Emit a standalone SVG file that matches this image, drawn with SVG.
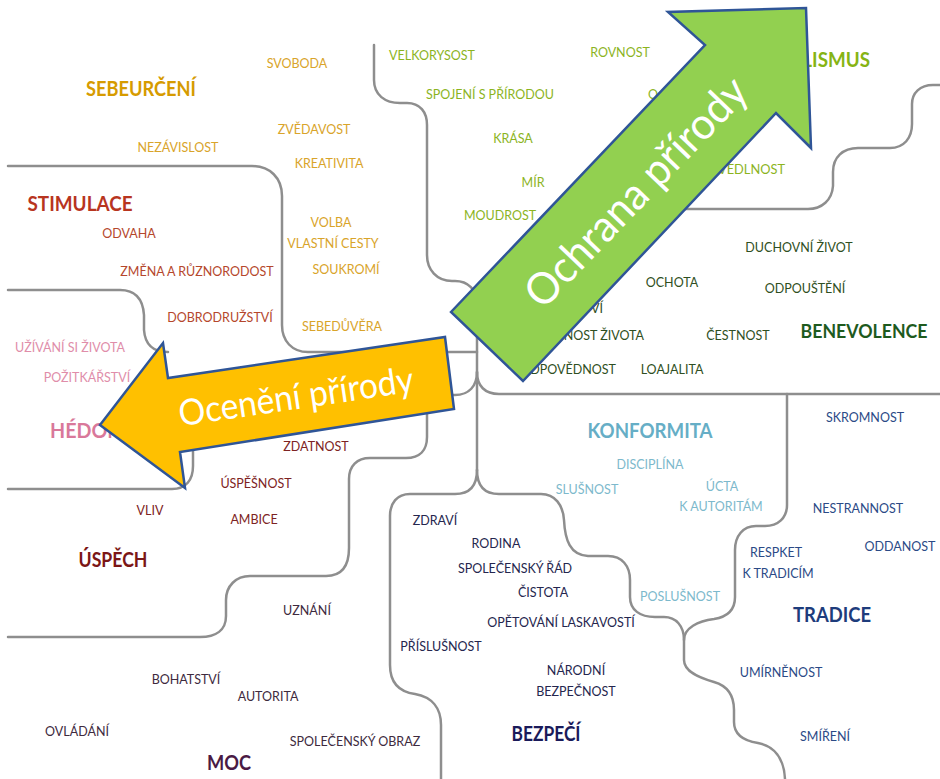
<svg xmlns="http://www.w3.org/2000/svg" width="940" height="779" viewBox="0 0 940 779">
<style>
.ln{fill:none;stroke:#8E8E8E;stroke-width:2.5;stroke-linecap:round;stroke-linejoin:round}
text{font-family:"Lato","Open Sans",sans-serif;font-size:12.5px;text-anchor:middle}
.t{font-size:20px;font-weight:bold}
.t19{font-size:19px}
.s{text-anchor:start}
.e{text-anchor:end}
.se{fill:#D9A42A}.seT{fill:#D69B00}
.st{fill:#B5472C}.stT{fill:#B8351F}
.he{fill:#E08DA9}.heT{fill:#D9789A}
.us{fill:#7D2323}.usT{fill:#7B1616}
.mo{fill:#3E2A3E}.moT{fill:#4A1A44}
.bz{fill:#25264E}.bzT{fill:#1A1A5A}
.ko{fill:#7DB9CC}.koT{fill:#66AEC6}
.tr{fill:#2B4A86}.trT{fill:#1E3C7C}
.be{fill:#2F4F22}.beT{fill:#1E5A1E}
.un{fill:#8CB41E}.unT{fill:#86B414}
.arrow{stroke:#2F5597;stroke-width:2.5;stroke-linejoin:miter}
.atext{fill:#FFFFFF;font-family:"Lato","Open Sans",sans-serif;font-weight:normal}
.ay{font-size:36px}
.ag{font-size:44px}
</style>
<rect width="940" height="779" fill="#FFFFFF"/>
<g id="connectors">
<path class="ln" d="M374,45 V80 C374,95 385,103 400,103 H407 C420,103 427,112 427,125 V255 C427,270 437,281 452,281 H455 C468,281 477,290 477,303 V470"/>
<path class="ln" d="M8,166 H252 C270,166 282,178 282,196 V325 C282,341 292,352 308,352 H477"/>
<path class="ln" d="M8,290 H120 C136,290 143,300 144,315 V330 C145,344 152,352 168,352"/>
<path class="ln" d="M8,489 H172 C186,489 193,480 193,466 V420 C193,405 201,395 216,395 H455 C469,395 477,386 477,372"/>
<path class="ln" d="M447,395 C436,395 427,402 427,413 V437 C427,450 420,458 406,458 H370 C357,458 349,466 349,479 V548 C349,566 342,576 326,576 H250 C236,576 226,586 226,600 V616 C226,630 216,637 200,637 H8"/>
<path class="ln" d="M477,470 C477,485 470,494 455,494 H410 C397,494 390,503 390,516 V665 C390,683 400,692 415,694 C432,697 441,708 441,725 V779"/>
<path class="ln" d="M477,470 C477,485 484,494 499,494 H541 C555,494 563,505 564,520 C565,540 570,555 588,556 H608 C622,556 630,566 630,580 V597 C630,610 640,617 655,617 H664 C676,617 684,626 684,640 V660 C684,672 700,678 714,682 C728,686 734,695 734,710 V722 C734,735 745,741 758,743 C774,746 784,758 785,779"/>
<path class="ln" d="M787,394 V505 C787,518 778,526 765,526 H756 C743,526 735,536 735,550 V597 C735,610 727,617 714,619 C698,621 684,628 684,640"/>
<path class="ln" d="M477,372 C477,386 485,394 499,394 H940"/>
<path class="ln" d="M600,209 H808 C822,209 832,200 833,186 V172 C833,157 843,148 858,148 H890 C904,148 912,138 912,124 V104 C912,93 920,85 933,85 H940"/>
</g>
<g id="sebeurceni">
<text class="t seT" x="141" y="96" textLength="110" lengthAdjust="spacingAndGlyphs">SEBEURČENÍ</text>
<text class="se" x="297" y="68">SVOBODA</text>
<text class="se" x="178" y="152">NEZÁVISLOST</text>
<text class="se" x="314" y="134">ZVĚDAVOST</text>
<text class="se" x="329" y="168">KREATIVITA</text>
<text class="se" x="331" y="227">VOLBA</text>
<text class="se" x="333" y="248">VLASTNÍ CESTY</text>
<text class="se" x="346" y="274">SOUKROMÍ</text>
<text class="se" x="342" y="331">SEBEDŮVĚRA</text>
</g>
<g id="stimulace">
<text class="t stT" x="80" y="211" textLength="105" lengthAdjust="spacingAndGlyphs">STIMULACE</text>
<text class="st" x="129" y="238">ODVAHA</text>
<text class="st" x="197" y="276">ZMĚNA A RŮZNORODOST</text>
<text class="st" x="220" y="322">DOBRODRUŽSTVÍ</text>
</g>
<g id="hedonismus">
<text class="he" x="70" y="352">UŽÍVÁNÍ SI ŽIVOTA</text>
<text class="he" x="87" y="382">POŽITKÁŘSTVÍ</text>
<text class="t heT s" x="50" y="438" textLength="133" lengthAdjust="spacingAndGlyphs">HÉDONISMUS</text>
</g>
<g id="uspech">
<text class="us" x="316" y="451">ZDATNOST</text>
<text class="us" x="256" y="488">ÚSPĚŠNOST</text>
<text class="us" x="150" y="515">VLIV</text>
<text class="us" x="254" y="524">AMBICE</text>
<text class="t usT" x="113" y="567" textLength="69" lengthAdjust="spacingAndGlyphs">ÚSPĚCH</text>
</g>
<g id="moc">
<text class="mo" x="307" y="615">UZNÁNÍ</text>
<text class="mo" x="186" y="684">BOHATSTVÍ</text>
<text class="mo" x="268" y="701">AUTORITA</text>
<text class="mo" x="77" y="736">OVLÁDÁNÍ</text>
<text class="mo" x="355" y="746">SPOLEČENSKÝ OBRAZ</text>
<text class="t moT" x="229" y="770" textLength="44" lengthAdjust="spacingAndGlyphs">MOC</text>
</g>
<g id="univerzalismus">
<text class="t unT e" x="870" y="67" textLength="162" lengthAdjust="spacingAndGlyphs">UNIVERZALISMUS</text>
<text class="un" x="432" y="60">VELKORYSOST</text>
<text class="un" x="490" y="99">SPOJENÍ S PŘÍRODOU</text>
<text class="un" x="620" y="57">ROVNOST</text>
<text class="un s" x="648" y="99">O</text>
<text class="un" x="513" y="143">KRÁSA</text>
<text class="un" x="533" y="187">MÍR</text>
<text class="un" x="500" y="220">MOUDROST</text>
<text class="un e" x="785" y="174" textLength="67" lengthAdjust="spacingAndGlyphs">VEDLNOST</text>
</g>
<g id="benevolence">
<text class="be" x="799" y="252">DUCHOVNÍ ŽIVOT</text>
<text class="be" x="672" y="287">OCHOTA</text>
<text class="be" x="805" y="293">ODPOUŠTĚNÍ</text>
<text class="be e" x="603" y="313">VÍ</text>
<text class="be e" x="644" y="340">NOST ŽIVOTA</text>
<text class="be" x="738" y="340">ČESTNOST</text>
<text class="t t19 beT" x="864" y="338" textLength="127" lengthAdjust="spacingAndGlyphs">BENEVOLENCE</text>
<text class="be e" x="616" y="374">ODPOVĚDNOST</text>
<text class="be" x="672" y="374">LOAJALITA</text>
</g>
<g id="konformita">
<text class="t koT" x="650" y="438" textLength="125" lengthAdjust="spacingAndGlyphs">KONFORMITA</text>
<text class="ko" x="650" y="469">DISCIPLÍNA</text>
<text class="ko" x="587" y="494">SLUŠNOST</text>
<text class="ko" x="722" y="491">ÚCTA</text>
<text class="ko" x="721" y="511">K AUTORITÁM</text>
<text class="ko" x="680" y="601">POSLUŠNOST</text>
</g>
<g id="tradice">
<text class="tr" x="865" y="422">SKROMNOST</text>
<text class="tr" x="858" y="513">NESTRANNOST</text>
<text class="tr" x="900" y="551">ODDANOST</text>
<text class="tr" x="776" y="557">RESPKET</text>
<text class="tr" x="778" y="578">K TRADICÍM</text>
<text class="t trT" x="832" y="622" textLength="78" lengthAdjust="spacingAndGlyphs">TRADICE</text>
<text class="tr" x="781" y="677">UMÍRNĚNOST</text>
<text class="tr" x="825" y="741">SMÍŘENÍ</text>
</g>
<g id="bezpeci">
<text class="bz" x="435" y="525">ZDRAVÍ</text>
<text class="bz" x="496" y="548">RODINA</text>
<text class="bz" x="515" y="573">SPOLEČENSKÝ ŘÁD</text>
<text class="bz" x="543" y="597">ČISTOTA</text>
<text class="bz" x="561" y="627">OPĚTOVÁNÍ LASKAVOSTÍ</text>
<text class="bz" x="441" y="651">PŘÍSLUŠNOST</text>
<text class="bz" x="576" y="675">NÁRODNÍ</text>
<text class="bz" x="576" y="696">BEZPEČNOST</text>
<text class="t bzT" x="546" y="741" textLength="69" lengthAdjust="spacingAndGlyphs">BEZPEČÍ</text>
</g>
<g id="oceneni-prirody">
<polygon class="arrow" fill="#FFC000" points="100,425 163,343 168,378 445,337 454,409 180,452 185,488"/>
<text class="atext ay" transform="translate(296,397) rotate(-8.4)" x="0" y="12" textLength="237" lengthAdjust="spacingAndGlyphs">Ocenění přírody</text>
</g>
<g id="ochrana-prirody">
<polygon class="arrow" fill="#92D050" points="451,312 705,45 668,12 806,8 811,148 776,113 523,381"/>
<text class="atext ag" transform="translate(636,192) rotate(-46.2)" x="0" y="15" textLength="300" lengthAdjust="spacingAndGlyphs">Ochrana přírody</text>
</g>
</svg>
